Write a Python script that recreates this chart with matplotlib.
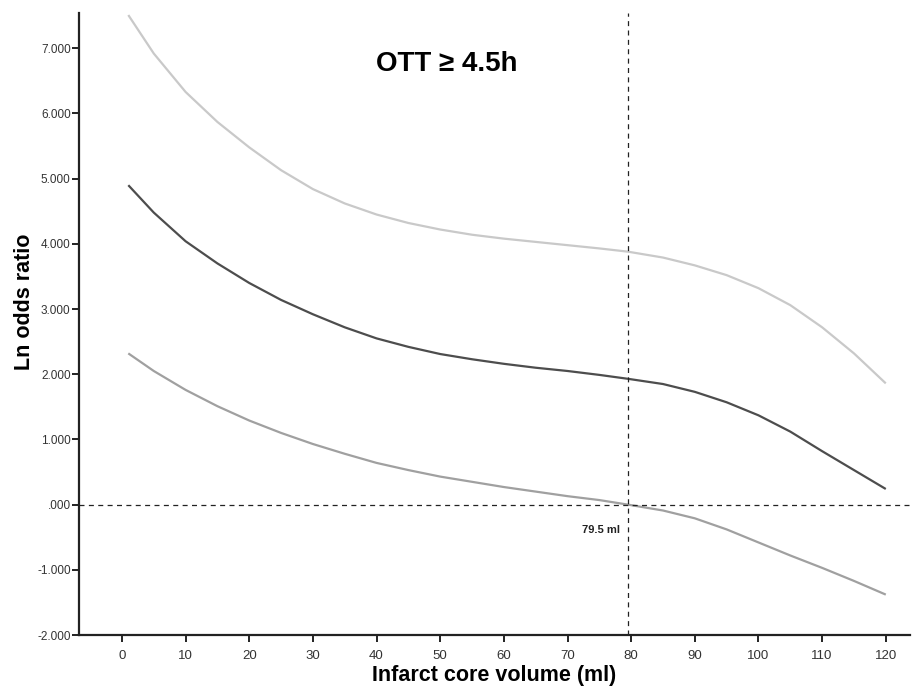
"""
Ln odds ratio vs infarct core volume, OTT >= 4.5h, with 95% CI bands.
"""

import matplotlib.pyplot as plt
from matplotlib.ticker import FuncFormatter

OUT_PATH = "out.png"

# values
volume = [1, 5, 10, 15, 20, 25, 30, 35, 40, 45, 50, 55, 60, 65, 70, 75,
          79.5, 85, 90, 95, 100, 105, 110, 115, 120]
upper = [7.51, 6.92, 6.33, 5.87, 5.48, 5.13, 4.84, 4.62, 4.45, 4.32, 4.22,
         4.14, 4.08, 4.03, 3.98, 3.93, 3.88, 3.79, 3.67, 3.52, 3.32, 3.06,
         2.72, 2.32, 1.86]
estimate = [4.90, 4.48, 4.04, 3.70, 3.40, 3.14, 2.92, 2.72, 2.55, 2.42, 2.31,
            2.23, 2.16, 2.10, 2.05, 1.99, 1.93, 1.85, 1.73, 1.57, 1.37, 1.12,
            0.82, 0.53, 0.24]
lower = [2.32, 2.05, 1.76, 1.51, 1.29, 1.10, 0.93, 0.78, 0.64, 0.53, 0.43,
         0.35, 0.27, 0.20, 0.13, 0.07, 0.00, -0.09, -0.21, -0.38, -0.58,
         -0.78, -0.97, -1.17, -1.38]

cutoff = 79.5
x_ticks = list(range(0, 130, 10))
y_ticks = list(range(-2, 8))


def fmt_y(v, pos):
    s = f"{v:.3f}"
    if s.startswith("0."):
        s = s[1:]
    if s == "-0.000":
        s = ".000"
    return s


def main():
    plt.rcParams["font.family"] = ["Liberation Sans", "DejaVu Sans"]
    fig = plt.figure(figsize=(9.14, 6.88), dpi=100)
    ax = fig.add_axes([0.0864, 0.077, 0.9092, 0.904])

    ax.plot(volume, upper, color="#c9c9c9", lw=1.6, solid_capstyle="butt")
    ax.plot(volume, estimate, color="#4d4d4d", lw=1.6, solid_capstyle="butt")
    ax.plot(volume, lower, color="#a0a0a0", lw=1.6, solid_capstyle="butt")

    ax.axhline(0, color="#222222", lw=0.9, ls=(0, (4, 3.5)))
    ax.axvline(cutoff, color="#222222", lw=0.9, ls=(0, (4, 3.5)))

    ax.text(78.3, -0.39, f"{cutoff} ml", ha="right", va="center",
            fontsize=8, fontweight="bold", color="#222222")

    ax.set_xlim(-6.75, 123.8)
    ax.set_ylim(-2, 7.54)
    ax.set_xticks(x_ticks)
    ax.set_yticks(y_ticks)
    ax.yaxis.set_major_formatter(FuncFormatter(fmt_y))

    for side in ("top", "right"):
        ax.spines[side].set_visible(False)
    for side in ("left", "bottom"):
        ax.spines[side].set_linewidth(1.6)
        ax.spines[side].set_color("#222222")
    ax.tick_params(direction="out", length=5, width=1.4, color="#222222",
                   labelsize=8.5, labelcolor="#333333")
    ax.tick_params(axis="x", pad=6)
    ax.tick_params(axis="y", pad=1)
    for lbl in ax.get_xticklabels():
        lbl.set_family(["Liberation Sans Narrow", "Liberation Sans"])
        lbl.set_fontsize(9.5)

    ax.set_xlabel("Infarct core volume (ml)", fontsize=15.5, fontweight="bold",
                  labelpad=2)
    ax.set_ylabel("Ln odds ratio", fontsize=15.5, fontweight="bold")
    ax.yaxis.set_label_coords(-0.053, 0.535)

    fig.text(447 / 914, 1 - 64 / 688, "OTT \u2265 4.5h", ha="center",
             va="center", fontsize=20, fontweight="bold")

    fig.savefig(OUT_PATH, dpi=100)


if __name__ == "__main__":
    main()
